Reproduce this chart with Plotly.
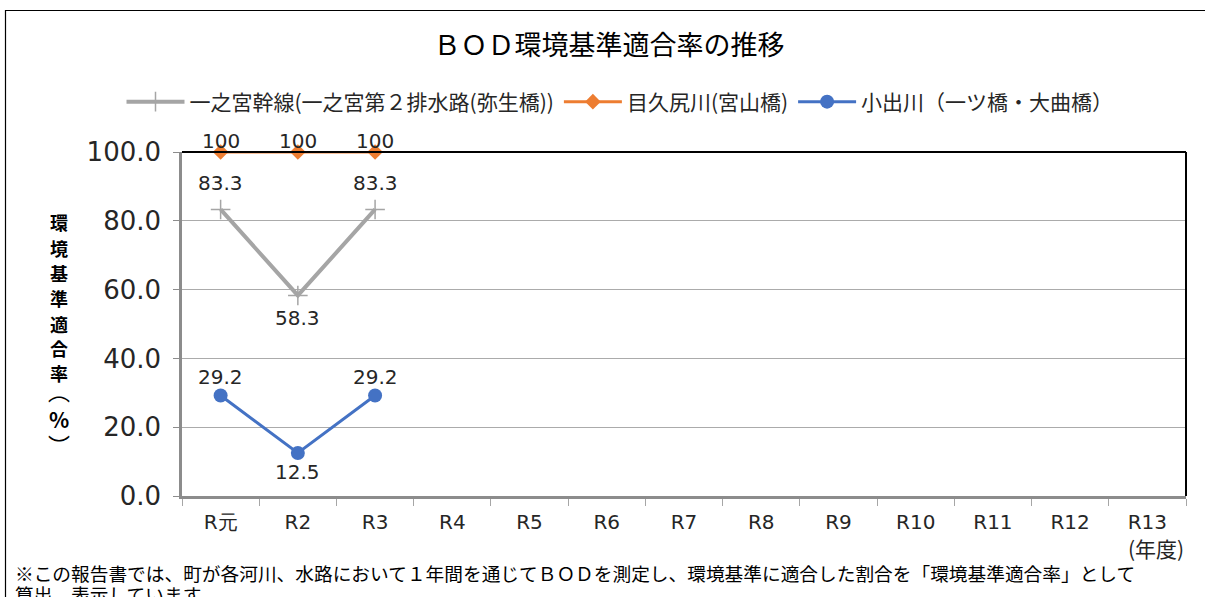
import plotly.graph_objects as go

categories = ["R元", "R2", "R3", "R4", "R5", "R6", "R7", "R8", "R9", "R10", "R11", "R12", "R13"]
ichinomiya = [83.3, 58.3, 83.3] + [None] * 10
mekujiri = [100, 100, 100] + [None] * 10
koide = [29.2, 12.5, 29.2] + [None] * 10

# label placement (pixels, + above / - below)
label_shift = {
    "ichinomiya": [26, -23, 26],
    "mekujiri": [11, 11, 11],
    "koide": [19, -19, 19],
}

FONT = "Noto Sans CJK JP"
NUMFONT = "DejaVu Sans"
W, H = 1205, 597
L, T = 182, 152
PW, PH = 1004, 344
R, B = W - L - PW, H - T - PH


def px(x):  # page pixel -> paper x
    return (x - L) / PW


def py(y):  # page pixel -> paper y
    return (T + PH - y) / PH


fig = go.Figure()
fig.add_trace(go.Scatter(
    x=categories, y=ichinomiya, name="一之宮幹線(一之宮第２排水路(弥生橋))",
    mode="lines+markers", line=dict(color="#A5A5A5", width=4),
    marker=dict(symbol="cross-thin", size=14, line=dict(color="#A5A5A5", width=1.5)),
    cliponaxis=False,
))
fig.add_trace(go.Scatter(
    x=categories, y=mekujiri, name="目久尻川(宮山橋)",
    mode="lines+markers", line=dict(color="#ED7D31", width=3),
    marker=dict(symbol="diamond", size=12, color="#ED7D31"),
    cliponaxis=False,
))
fig.add_trace(go.Scatter(
    x=categories, y=koide, name="小出川（一ツ橋・大曲橋）",
    mode="lines+markers", line=dict(color="#4472C4", width=3),
    marker=dict(symbol="circle", size=14, color="#4472C4"),
    cliponaxis=False,
))

annotations = []
for key, series in (("ichinomiya", ichinomiya), ("mekujiri", mekujiri), ("koide", koide)):
    for i, v in enumerate(series):
        if v is None:
            continue
        txt = str(int(v)) if float(v).is_integer() else f"{v:.1f}"
        annotations.append(dict(
            x=categories[i], y=v, xref="x", yref="y", text=txt, showarrow=False,
            yshift=label_shift[key][i], xanchor="center", yanchor="middle",
            font=dict(family=NUMFONT, size=20, color="#262626"),
        ))

# vertical axis title, one character per line
ytitle_chars = ["環", "境", "基", "準", "適", "合", "率", "︵", "%", "︶"]
ytitle_y = [222, 248, 273, 298, 324, 348, 373, 390, 419, 444]
ytitle_size = [18, 18, 18, 18, 18, 18, 18, 22, 21, 22]
ytitle_bold = [True] * 7 + [False, True, False]
for ch, yy, sz, bd in zip(ytitle_chars, ytitle_y, ytitle_size, ytitle_bold):
    annotations.append(dict(
        text=f"<b>{ch}</b>" if bd else ch, xref="paper", yref="paper", x=px(59), y=py(yy),
        xanchor="center", yanchor="middle", showarrow=False,
        font=dict(family=FONT, size=sz, color="#000000"),
    ))

annotations += [
    dict(text="(年度)", xref="paper", yref="paper", x=px(1156), y=py(548),
         xanchor="center", yanchor="middle", showarrow=False,
         font=dict(family=FONT, size=21, color="#262626")),
    dict(text="※この報告書では、町が各河川、水路において１年間を通じてＢＯＤを測定し、環境基準に適合した割合を「環境基準適合率」として",
         xref="paper", yref="paper", x=px(13), y=py(572), xanchor="left", yanchor="middle",
         showarrow=False, font=dict(family=FONT, size=18.7, color="#000000")),
    dict(text="算出、表示しています。",
         xref="paper", yref="paper", x=px(13), y=py(593), xanchor="left", yanchor="middle",
         showarrow=False, font=dict(family=FONT, size=18.7, color="#000000")),
]

shapes = [
    dict(type="rect", xref="paper", yref="paper", x0=px(5.5), x1=px(1215), y0=py(10.5), y1=py(620),
         line=dict(color="#000000", width=1.2), layer="below"),
    dict(type="line", xref="paper", yref="paper", x0=0, x1=1, y0=1, y1=1,
         line=dict(color="#000000", width=2)),
    dict(type="line", xref="paper", yref="paper", x0=1, x1=1, y0=0, y1=1,
         line=dict(color="#000000", width=2)),
]

fig.update_layout(
    width=W, height=H,
    margin=dict(l=L, r=R, t=T, b=B, autoexpand=False),
    paper_bgcolor="white", plot_bgcolor="white",
    title=dict(text="ＢＯＤ環境基準適合率の推移", x=609 / W, xref="container", xanchor="center",
               y=1 - 46 / H, yref="container", yanchor="middle",
               font=dict(family=FONT, size=27, color="#000000")),
    legend=dict(orientation="h", x=px(620), xref="paper", xanchor="center", y=py(102), yanchor="middle",
                font=dict(family=FONT, size=21, color="#262626"), itemwidth=58,
                bgcolor="rgba(0,0,0,0)", tracegroupgap=0),
    showlegend=True,
    shapes=shapes, annotations=annotations,
    xaxis=dict(type="category", categoryorder="array", categoryarray=categories,
               range=[-0.5, 12.5], showline=True, linecolor="#8C8C8C", linewidth=2.5,
               showgrid=False, ticks="outside", tickcolor="#A6A6A6", ticklen=7, tickwidth=1,
               tickson="boundaries", ticklabelstandoff=6,
               tickfont=dict(family=NUMFONT, size=20, color="#262626")),
    yaxis=dict(range=[0, 100], dtick=20, tickformat=".1f", showline=True, linecolor="#8C8C8C",
               linewidth=2.5, showgrid=True, gridcolor="#ABABAB", gridwidth=1,
               ticks="outside", tickcolor="#8C8C8C", ticklen=6, zeroline=False,
               ticklabelstandoff=7,
               tickfont=dict(family=NUMFONT, size=26, color="#262626")),
)

fig.write_html("out.html", config={"displayModeBar": False},
               post_script="document.body.style.margin='0px';document.body.style.overflow='hidden';")
